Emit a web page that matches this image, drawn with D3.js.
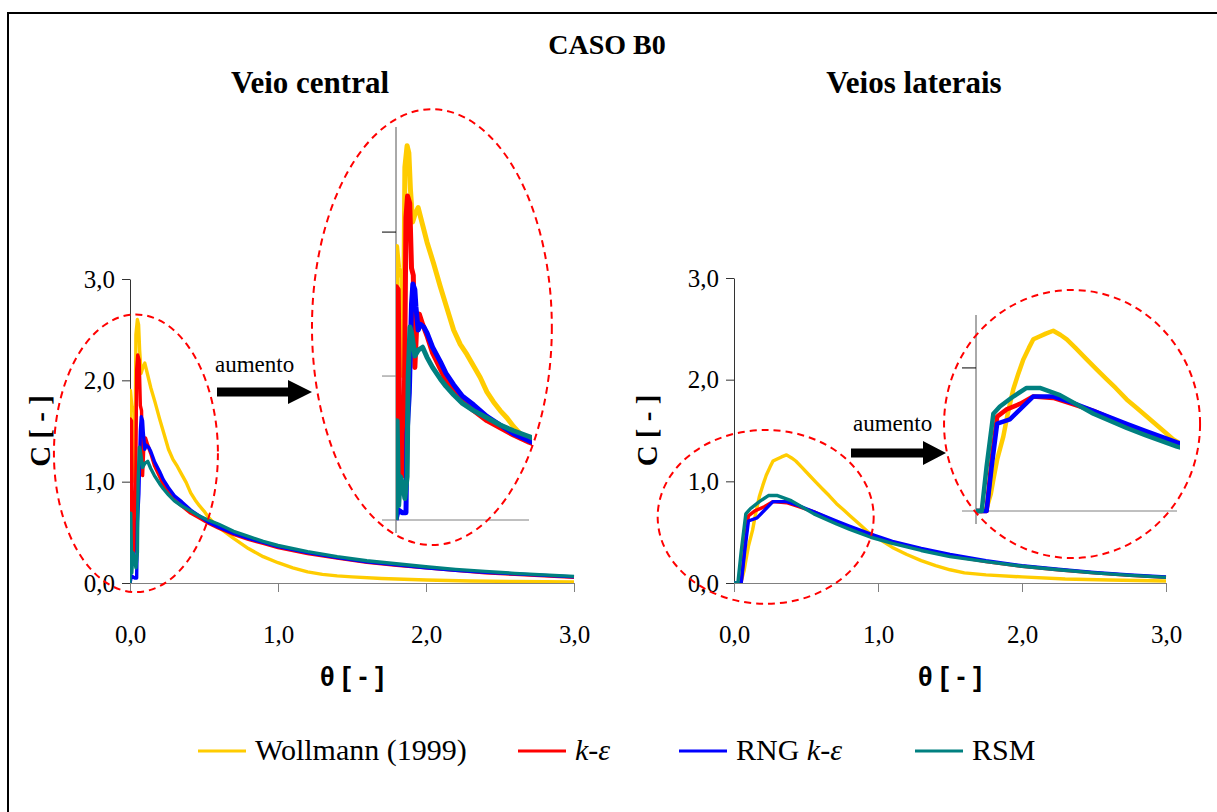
<!DOCTYPE html>
<html>
<head>
<meta charset="utf-8">
<script src="https://cdn.jsdelivr.net/npm/d3@7"></script>
<style>
  body { margin: 0; background: #fff; }
  text { font-family: "Liberation Serif", "Times New Roman", serif; }
</style>
</head>
<body>
<div id="chart"></div>
<script>
// Series data: [theta, C] pairs
var centralWollmann = [[0,0],[0.003,1.9],[0.012,1.75],[0.02,1.7],[0.026,1.72],[0.033,1.0],[0.04,2.45],[0.05,2.6],[0.058,2.55],[0.065,2.3],[0.075,2.07],[0.085,2.12],[0.1,2.17],[0.12,2.05],[0.14,1.93],[0.17,1.78],[0.2,1.62],[0.23,1.47],[0.26,1.32],[0.29,1.22],[0.32,1.15],[0.35,1.07],[0.38,0.99],[0.41,0.89],[0.44,0.82],[0.47,0.76],[0.5,0.71],[0.53,0.65],[0.56,0.6],[0.6,0.55],[0.7,0.44],[0.8,0.34],[0.9,0.26],[1.0,0.2],[1.1,0.15],[1.2,0.11],[1.3,0.085],[1.4,0.07],[1.5,0.06],[1.7,0.045],[2.0,0.03],[2.3,0.02],[2.6,0.015],[3.0,0.01]];
var centralKe = [[0,0],[0.002,1.62],[0.01,1.6],[0.018,0.5],[0.026,0.3],[0.035,0.35],[0.045,2.1],[0.052,2.25],[0.062,2.2],[0.07,1.75],[0.078,1.7],[0.085,1.06],[0.095,1.4],[0.105,1.43],[0.12,1.36],[0.14,1.28],[0.165,1.16],[0.2,1.05],[0.225,0.97],[0.26,0.89],[0.3,0.82],[0.35,0.76],[0.41,0.69],[0.47,0.64],[0.53,0.59],[0.6,0.54],[0.7,0.48],[0.8,0.43],[0.9,0.39],[1.0,0.35],[1.2,0.29],[1.4,0.245],[1.6,0.205],[1.8,0.175],[2.0,0.15],[2.2,0.125],[2.4,0.1],[2.6,0.085],[2.8,0.07],[3.0,0.055]];
var centralRng = [[0,0],[0.01,0.07],[0.03,0.05],[0.045,0.05],[0.05,0.6],[0.06,0.88],[0.07,1.5],[0.076,1.64],[0.085,1.6],[0.09,1.48],[0.1,1.32],[0.11,1.36],[0.126,1.34],[0.14,1.3],[0.165,1.2],[0.2,1.1],[0.225,1.02],[0.26,0.94],[0.3,0.86],[0.35,0.8],[0.41,0.72],[0.47,0.66],[0.53,0.6],[0.6,0.55],[0.7,0.49],[0.8,0.44],[0.9,0.4],[1.0,0.36],[1.2,0.3],[1.4,0.25],[1.6,0.21],[1.8,0.18],[2.0,0.15],[2.2,0.125],[2.4,0.105],[2.6,0.09],[2.8,0.075],[3.0,0.06]];
var centralRsm = [[0,0],[0.005,0.69],[0.012,0.1],[0.02,0.3],[0.03,0.25],[0.04,0.15],[0.05,0.3],[0.055,1.0],[0.063,1.34],[0.07,1.3],[0.078,1.22],[0.085,1.14],[0.1,1.18],[0.12,1.2],[0.14,1.13],[0.165,1.06],[0.2,0.98],[0.225,0.93],[0.26,0.87],[0.3,0.81],[0.35,0.76],[0.41,0.71],[0.47,0.66],[0.53,0.62],[0.6,0.58],[0.7,0.51],[0.8,0.46],[0.9,0.41],[1.0,0.37],[1.2,0.31],[1.4,0.26],[1.6,0.22],[1.8,0.19],[2.0,0.16],[2.2,0.135],[2.4,0.115],[2.6,0.095],[2.8,0.08],[3.0,0.065]];

var lateralWollmann = [[0,0],[0.03,0],[0.05,0.02],[0.07,0.12],[0.082,0.22],[0.1,0.36],[0.129,0.52],[0.15,0.68],[0.176,0.85],[0.2,0.96],[0.224,1.06],[0.25,1.14],[0.271,1.2],[0.3,1.22],[0.33,1.24],[0.365,1.26],[0.4,1.23],[0.429,1.2],[0.47,1.14],[0.523,1.06],[0.57,0.99],[0.618,0.92],[0.66,0.86],[0.712,0.78],[0.76,0.72],[0.807,0.66],[0.87,0.58],[0.933,0.5],[1.0,0.44],[1.1,0.35],[1.2,0.28],[1.3,0.22],[1.4,0.17],[1.5,0.13],[1.6,0.1],[1.75,0.08],[2.0,0.06],[2.3,0.04],[2.6,0.03],[3.0,0.02]];
var lateralKe = [[0,0],[0.05,0],[0.074,0.36],[0.1,0.66],[0.145,0.71],[0.21,0.75],[0.27,0.8],[0.365,0.79],[0.45,0.75],[0.555,0.7],[0.712,0.6],[0.8,0.55],[0.95,0.47],[1.1,0.4],[1.3,0.33],[1.5,0.27],[1.75,0.21],[2.0,0.165],[2.25,0.13],[2.5,0.1],[2.75,0.075],[3.0,0.055]];
var lateralRng = [[0,0],[0.05,0],[0.074,0.31],[0.1,0.61],[0.16,0.64],[0.27,0.8],[0.365,0.8],[0.45,0.76],[0.555,0.7],[0.712,0.61],[0.8,0.56],[0.95,0.48],[1.1,0.41],[1.3,0.34],[1.5,0.28],[1.75,0.22],[2.0,0.17],[2.25,0.135],[2.5,0.105],[2.75,0.08],[3.0,0.06]];
var lateralRsm = [[0,0],[0.027,0],[0.05,0.31],[0.082,0.68],[0.113,0.73],[0.176,0.8],[0.239,0.86],[0.302,0.86],[0.397,0.81],[0.555,0.68],[0.712,0.58],[0.8,0.53],[0.95,0.45],[1.1,0.39],[1.3,0.32],[1.5,0.26],[1.75,0.21],[2.0,0.165],[2.25,0.13],[2.5,0.1],[2.75,0.075],[3.0,0.055]];

var seriesNames = ["Wollmann (1999)", "k-ε", "RNG k-ε", "RSM"];
var seriesColors = ["#FFCC00", "#FF0000", "#0000FF", "#008080"];
var mainTicks = [0, 1, 2, 3];

var width = 1217, height = 812;

var svg = d3.select("#chart").append("svg")
  .attr("width", width)
  .attr("height", height);

// outer frame
svg.append("rect")
  .attr("x", 8).attr("y", 13)
  .attr("width", 1240).attr("height", 840)
  .attr("fill", "none").attr("stroke", "#000").attr("stroke-width", 2);

svg.append("text").attr("x", 607).attr("y", 54)
  .attr("text-anchor", "middle").attr("font-weight", "bold").attr("font-size", 28)
  .text("CASO B0");

var fmt = d => d.toFixed(1).replace(".", ",");

var panels = [
  { title: "Veio central", data: [centralWollmann, centralKe, centralRng, centralRsm],
    x: d3.scaleLinear().domain([0, 3]).range([130, 574]),
    y: d3.scaleLinear().domain([0, 3]).range([583, 279]),
    ix: d3.scaleLinear().domain([0, 0.6]).range([396, 529]),
    iy: d3.scaleLinear().domain([0, 2.73]).range([520, 127]),
    insetTicks: [0, 1, 2], insetWidth: 5,
    ell: [0.04, 1.28, 0.554, 1.37], insetEll: [0.162, 1.34, 0.541, 1.514],
    arrow: [217, 288, 312, 392], word: [215, 372], ylab: 40, titleX: 310 },
  { title: "Veios laterais", data: [lateralWollmann, lateralKe, lateralRng, lateralRsm],
    x: d3.scaleLinear().domain([0, 3]).range([734, 1166]),
    y: d3.scaleLinear().domain([0, 3]).range([583, 278]),
    ix: d3.scaleLinear().domain([0, 0.95]).range([976, 1177]),
    iy: d3.scaleLinear().domain([0, 1.37]).range([511, 315]),
    insetTicks: [0, 1], insetWidth: 4.5,
    ell: [0.22, 0.65, 0.75, 0.855], insetEll: [0.454, 0.608, 0.605, 0.937],
    arrow: [851, 923, 946, 453], word: [853, 431], ylab: 647, titleX: 914 }
];

panels.forEach(function(p, pi) {
  var g = svg.append("g");
  var x = p.x, y = p.y;

  g.append("text").attr("x", p.titleX).attr("y", 93)
    .attr("text-anchor", "middle").attr("font-weight", "bold").attr("font-size", 31)
    .text(p.title);

  // axes
  var yAxis = g.append("g").attr("transform", `translate(${x(0)},0)`)
    .call(d3.axisLeft(y).tickValues(mainTicks).tickFormat(fmt).tickSize(8).tickSizeOuter(0).tickPadding(7));
  yAxis.selectAll("text").attr("font-size", 25).style("font-family", "'Liberation Serif', serif").attr("fill", "#000");
  yAxis.selectAll("path,line").attr("stroke", "#333");

  var xAxis = g.append("g").attr("transform", `translate(0,${y(0)})`)
    .call(d3.axisBottom(x).tickValues(mainTicks).tickFormat(fmt).tickSize(9).tickSizeOuter(0).tickPadding(33));
  xAxis.selectAll("text").attr("font-size", 25).style("font-family", "'Liberation Serif', serif").attr("fill", "#000");
  xAxis.selectAll("path,line").attr("stroke", "#808080");

  g.append("text")
    .attr("transform", `translate(${p.ylab},${(y(0) + y(3)) / 2}) rotate(-90)`)
    .attr("text-anchor", "middle").attr("dy", "0.35em")
    .attr("font-weight", "bold").attr("font-size", 29)
    .text("C [ - ]");

  g.append("text").attr("x", (x(0) + x(3)) / 2).attr("y", 686)
    .attr("text-anchor", "middle").attr("font-weight", "bold").attr("font-size", 27)
    .style("font-family", "'Liberation Sans', Arial, sans-serif")
    .text("θ [ - ]");

  // main lines
  var clipId = "clip" + pi;
  svg.append("clipPath").attr("id", clipId).append("rect")
    .attr("x", x(0)).attr("y", y(3) - 5).attr("width", x(3) - x(0) + 2).attr("height", y(0) - y(3) + 5);
  var line = d3.line().x(d => x(d[0])).y(d => y(d[1]));
  g.append("g").attr("clip-path", `url(#${clipId})`)
    .selectAll("path").data(p.data).join("path")
    .attr("d", line).attr("fill", "none")
    .attr("stroke", (d, i) => seriesColors[i]).attr("stroke-width", 3.4)
    .attr("stroke-linejoin", "round");

  // inset
  var ix = p.ix, iy = p.iy;
  var ig = g.append("g");
  ig.append("line").attr("x1", ix(0)).attr("x2", ix(0)).attr("y1", iy.range()[1]).attr("y2", iy(0) + 13)
    .attr("stroke", "#555");
  ig.append("line").attr("x1", ix(0)).attr("x2", ix.range()[1]).attr("y1", iy(0)).attr("y2", iy(0))
    .attr("stroke", "#808080");
  ig.selectAll("line.tk").data(p.insetTicks).join("line").attr("class", "tk")
    .attr("x1", ix(0) - 14).attr("x2", ix(0)).attr("y1", d => iy(d)).attr("y2", d => iy(d))
    .attr("stroke", (d, i) => i === p.insetTicks.length - 1 ? "#000" : "#808080");
  var iclip = "iclip" + pi;
  svg.append("clipPath").attr("id", iclip).append("rect")
    .attr("x", ix(0)).attr("y", iy.range()[1]).attr("width", ix.range()[1] - ix(0) + 3)
    .attr("height", iy(0) - iy.range()[1] + 3);
  var iline = d3.line().x(d => ix(d[0])).y(d => iy(d[1]));
  ig.append("g").attr("clip-path", `url(#${iclip})`)
    .selectAll("path").data(p.data).join("path")
    .attr("d", iline).attr("fill", "none")
    .attr("stroke", (d, i) => seriesColors[i]).attr("stroke-width", p.insetWidth)
    .attr("stroke-linejoin", "round");

  // dashed zoom ellipses
  [[p.ell, x, y], [p.insetEll, ix, iy]].forEach(function(e) {
    var c = e[0], sx = e[1], sy = e[2];
    g.append("ellipse")
      .attr("cx", sx(c[0])).attr("cy", sy(c[1]))
      .attr("rx", sx(c[2]) - sx(0)).attr("ry", sy(0) - sy(c[3]))
      .attr("fill", "none").attr("stroke", "#FF0000").attr("stroke-width", 2)
      .attr("stroke-dasharray", "7,5");
  });

  // arrow + label
  var a = p.arrow;
  g.append("path")
    .attr("d", `M${a[0]},${a[3] - 4.5}H${a[1]}V${a[3] - 12}L${a[2]},${a[3]}L${a[1]},${a[3] + 12}V${a[3] + 4.5}H${a[0]}Z`)
    .attr("fill", "#000");
  g.append("text").attr("x", p.word[0]).attr("y", p.word[1])
    .attr("font-size", 23).text("aumento");
});

// legend
var legendX = [198, 518, 679, 915];
var lg = svg.append("g");
seriesNames.forEach(function(name, i) {
  lg.append("line").attr("x1", legendX[i]).attr("x2", legendX[i] + 48)
    .attr("y1", 751).attr("y2", 751)
    .attr("stroke", seriesColors[i]).attr("stroke-width", 3);
  var t = lg.append("text").attr("x", legendX[i] + 57).attr("y", 760).attr("font-size", 30);
  if (i === 0) t.text(name);
  else if (i === 1) { t.append("tspan").attr("font-style", "italic").text("k-ε"); }
  else if (i === 2) { t.append("tspan").text("RNG "); t.append("tspan").attr("font-style", "italic").text("k-ε"); }
  else t.text(name);
});
</script>
</body>
</html>
